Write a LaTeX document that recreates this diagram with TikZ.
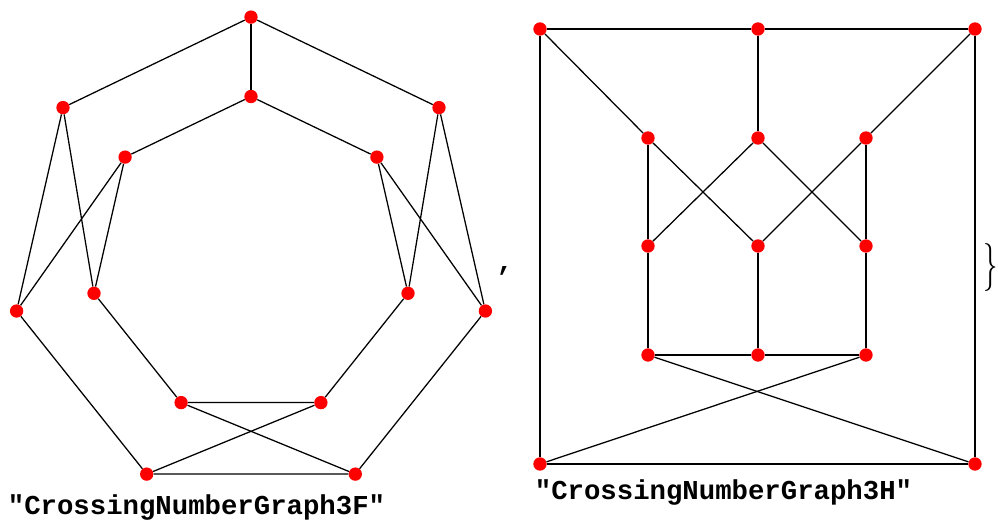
\documentclass[tikz,border=0pt]{standalone}
\usepackage{fontspec}
\setmonofont{Liberation Mono}
\begin{document}
\begin{tikzpicture}[
    x=0.75pt, y=-0.75pt,
    vtx/.style={circle, fill=red, inner sep=0pt, minimum size=10pt},
    edge/.style={line width=0.95pt},
    caption/.style={font=\fontsize{20.5}{24}\selectfont\ttfamily\bfseries, anchor=base, inner sep=0pt}
]
\useasboundingbox (0,0) rectangle (998,529);

% CrossingNumberGraph3F: outer heptagon
\node[vtx] (fo0) at (251,17.1) {};
\node[vtx] (fo1) at (439.0,107.6) {};
\node[vtx] (fo2) at (485.4,311.0) {};
\node[vtx] (fo3) at (355.3,474.1) {};
\node[vtx] (fo4) at (146.7,474.1) {};
\node[vtx] (fo5) at (16.6,311.0) {};
\node[vtx] (fo6) at (63.0,107.6) {};

% inner heptagon
\node[vtx] (fi0) at (251,96.5) {};
\node[vtx] (fi1) at (376.9,157.1) {};
\node[vtx] (fi2) at (408.0,293.3) {};
\node[vtx] (fi3) at (320.9,402.6) {};
\node[vtx] (fi4) at (181.1,402.6) {};
\node[vtx] (fi5) at (94.0,293.3) {};
\node[vtx] (fi6) at (125.1,157.1) {};

\draw[edge] (fo0) -- (fo1) -- (fo2) -- (fo3) -- (fo4) -- (fo5) -- (fo6) -- (fo0);
\draw[edge] (fo0) -- (fi0);
\draw[edge] (fi6) -- (fi0) -- (fi1);
\draw[edge] (fo1) -- (fi2) -- (fi1) -- (fo2);
\draw[edge] (fo6) -- (fi5) -- (fi6) -- (fo5);
\draw[edge] (fi5) -- (fi4) -- (fi3) -- (fi2);
\draw[edge] (fi4) -- (fo3);
\draw[edge] (fi3) -- (fo4);

\node[caption] (capF) at (196.5,514) {"CrossingNumberGraph3F"};

% separator
\node[font=\fontsize{20.5}{24}\selectfont\ttfamily\bfseries] (comma) at (505,271) {,};

% CrossingNumberGraph3H: outer square
\node[vtx] (hTL) at (540,29) {};
\node[vtx] (hTM) at (758,29) {};
\node[vtx] (hTR) at (975,29) {};
\node[vtx] (hBL) at (540,464) {};
\node[vtx] (hBR) at (975,464) {};

% inner grid
\node[vtx] (ha1) at (648,138) {};
\node[vtx] (ha2) at (758,138) {};
\node[vtx] (ha3) at (866,138) {};
\node[vtx] (hb1) at (648,246) {};
\node[vtx] (hb2) at (758,246) {};
\node[vtx] (hb3) at (866,246) {};
\node[vtx] (hc1) at (648,355) {};
\node[vtx] (hc2) at (758,355) {};
\node[vtx] (hc3) at (866,355) {};

\draw[edge] (hTL) -- (hTM) -- (hTR) -- (hBR) -- (hBL) -- (hTL);
\draw[edge] (hTM) -- (ha2);
\draw[edge] (hTL) -- (ha1) -- (hb2) -- (ha3) -- (hTR);
\draw[edge] (hb1) -- (ha2) -- (hb3);
\draw[edge] (hc1) -- (hb1) -- (ha1);
\draw[edge] (hc3) -- (hb3) -- (ha3);
\draw[edge] (hb2) -- (hc2);
\draw[edge] (hc1) -- (hc2) -- (hc3);
\draw[edge] (hc1) -- (hBR);
\draw[edge] (hc3) -- (hBL);

\node[caption] (capH) at (723.5,499) {"CrossingNumberGraph3H"};

% closing brace
\node[font=\fontsize{36}{38}\selectfont, xscale=0.6] (brace) at (991,267) {\}};

\end{tikzpicture}
\end{document}
